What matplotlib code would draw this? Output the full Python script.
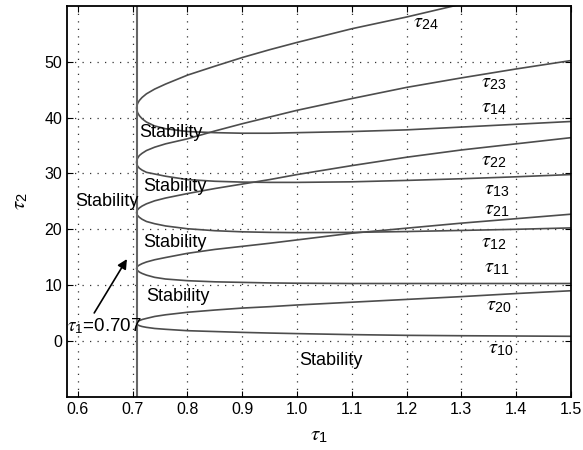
import numpy as np
import matplotlib
matplotlib.use('Agg')
from matplotlib import pyplot as plt

plt.rcParams['font.family'] = ['Liberation Sans', 'DejaVu Sans']
plt.rcParams['mathtext.fontset'] = 'custom'
plt.rcParams['mathtext.rm'] = 'Liberation Sans'
plt.rcParams['mathtext.it'] = 'STIXGeneral:italic'

# tau1 sample points
tau1 = [0.707, 0.7075, 0.709, 0.712, 0.717, 0.725, 0.74, 0.76, 0.8, 0.85,
        0.9, 0.95, 1.0, 1.1, 1.2, 1.3, 1.4, 1.5]

# lower branches (tau_1k) and upper branches (tau_2k), k = 0..4
tau10 = [3.2, 3.05, 2.9, 2.75, 2.6, 2.45, 2.25, 2.1, 1.85, 1.7,
         1.55, 1.43, 1.33, 1.15, 1.02, 0.95, 0.9, 0.85]
tau20 = [3.2, 3.35, 3.5, 3.65, 3.85, 4.05, 4.4, 4.7, 5.15, 5.55,
         5.9, 6.15, 6.45, 6.95, 7.45, 7.95, 8.5, 9.0]
tau11 = [13.0, 12.8, 12.6, 12.35, 12.1, 11.8, 11.4, 11.1, 10.8, 10.6,
         10.5, 10.4, 10.35, 10.3, 10.3, 10.3, 10.3, 10.3]
tau21 = [13.0, 13.2, 13.4, 13.6, 13.85, 14.15, 14.55, 14.95, 15.7, 16.4,
         16.95, 17.5, 18.1, 19.3, 20.2, 21.1, 21.9, 22.7]
tau12 = [23.0, 22.7, 22.45, 22.15, 21.8, 21.4, 21.0, 20.6, 20.1, 19.75,
         19.55, 19.45, 19.4, 19.45, 19.6, 19.8, 20.0, 20.25]
tau22 = [23.0, 23.26, 23.52, 23.82, 24.16, 24.56, 25.1, 25.6, 26.4, 27.3,
         28.1, 28.9, 29.8, 31.4, 32.9, 34.2, 35.3, 36.4]
tau13 = [32.0, 31.65, 31.3, 30.95, 30.6, 30.2, 29.9, 29.5, 28.9, 28.6,
         28.45, 28.4, 28.4, 28.5, 28.75, 29.05, 29.4, 29.8]
tau23 = [32.0, 32.4, 32.75, 33.2, 33.6, 34.1, 34.7, 35.3, 36.2, 37.6,
         38.9, 40.1, 41.3, 43.4, 45.4, 47.1, 48.7, 50.2]
tau14 = [41.7, 41.3, 40.85, 40.35, 39.8, 39.2, 38.5, 38.0, 37.5, 37.3,
         37.2, 37.2, 37.3, 37.5, 37.8, 38.3, 38.8, 39.3]
tau24 = [41.7, 42.1, 42.55, 43.05, 43.6, 44.25, 45.1, 46.0, 47.6, 49.2,
         50.75, 52.15, 53.45, 55.9, 58.0, 60.3, np.nan, np.nan]

lower = [tau10, tau11, tau12, tau13, tau14]
upper = [tau20, tau21, tau22, tau23, tau24]

tau1_crit = 0.707

# branch labels
branch_labels = ['$\\tau_{\\mathrm{24}}$', '$\\tau_{\\mathrm{23}}$', '$\\tau_{\\mathrm{14}}$',
                 '$\\tau_{\\mathrm{22}}$', '$\\tau_{\\mathrm{13}}$', '$\\tau_{\\mathrm{21}}$',
                 '$\\tau_{\\mathrm{12}}$', '$\\tau_{\\mathrm{11}}$', '$\\tau_{\\mathrm{20}}$',
                 '$\\tau_{\\mathrm{10}}$']
branch_label_x = [1.236, 1.36, 1.36, 1.36, 1.365, 1.365, 1.36, 1.365, 1.368, 1.372]
branch_label_y = [57.1, 46.3, 41.8, 32.3, 27.1, 23.6, 17.7, 13.2, 6.4, -1.3]

stab_x = [0.77, 0.777, 0.653, 0.777, 0.783, 1.062]
stab_y = [37.3, 27.7, 25.0, 17.7, 8.0, -3.4]

fig = plt.figure(figsize=(5.83, 4.5), dpi=100)
ax = fig.add_axes([0.115, 0.118, 0.864, 0.869])

line_col = '#4d4d4d'
x = np.array(tau1)
for lo, up in zip(lower, upper):
    xs = np.concatenate([x[::-1], x[1:]])
    ys = np.concatenate([np.array(lo)[::-1], np.array(up)[1:]])
    ax.plot(xs, ys, color=line_col, lw=1.2)

ax.axvline(tau1_crit, color='#666666', lw=1.5)

for s, xx, yy in zip(branch_labels, branch_label_x, branch_label_y):
    ax.text(xx, yy, s, fontsize=14.5, ha='center', va='center')

for xx, yy in zip(stab_x, stab_y):
    ax.text(xx, yy, 'Stability', fontsize=13, ha='center', va='center')

ax.annotate('', xy=(0.692, 15.1), xytext=(0.627, 4.6),
            arrowprops=dict(arrowstyle='-|>', color='black', lw=1.2, mutation_scale=14))
ax.text(0.648, 2.7, '$\\tau_{\\mathrm{1}}$=0.707', fontsize=13.5, ha='center', va='center')

ax.set_xlim(0.58, 1.5)
ax.set_ylim(-10, 60)
ax.set_xticks(np.arange(0.6, 1.51, 0.1))
ax.set_xticklabels(['0.6', '0.7', '0.8', '0.9', '1.0', '1.1', '1.2', '1.3', '1.4', '1.5'])
ax.set_yticks([0, 10, 20, 30, 40, 50])
ax.grid(True, linestyle=(0, (1, 5)), color='#333333', lw=0.9)
ax.tick_params(direction='in', top=True, right=True, labelsize=11.5, length=4)
for sp in ax.spines.values():
    sp.set_linewidth(1.3)

ax.set_xlabel('$\\tau_{\\mathrm{1}}$', fontsize=15, labelpad=7)
ax.set_ylabel('$\\tau_{\\mathrm{2}}$', fontsize=15, labelpad=10)

fig.savefig('out.png', dpi=100)
